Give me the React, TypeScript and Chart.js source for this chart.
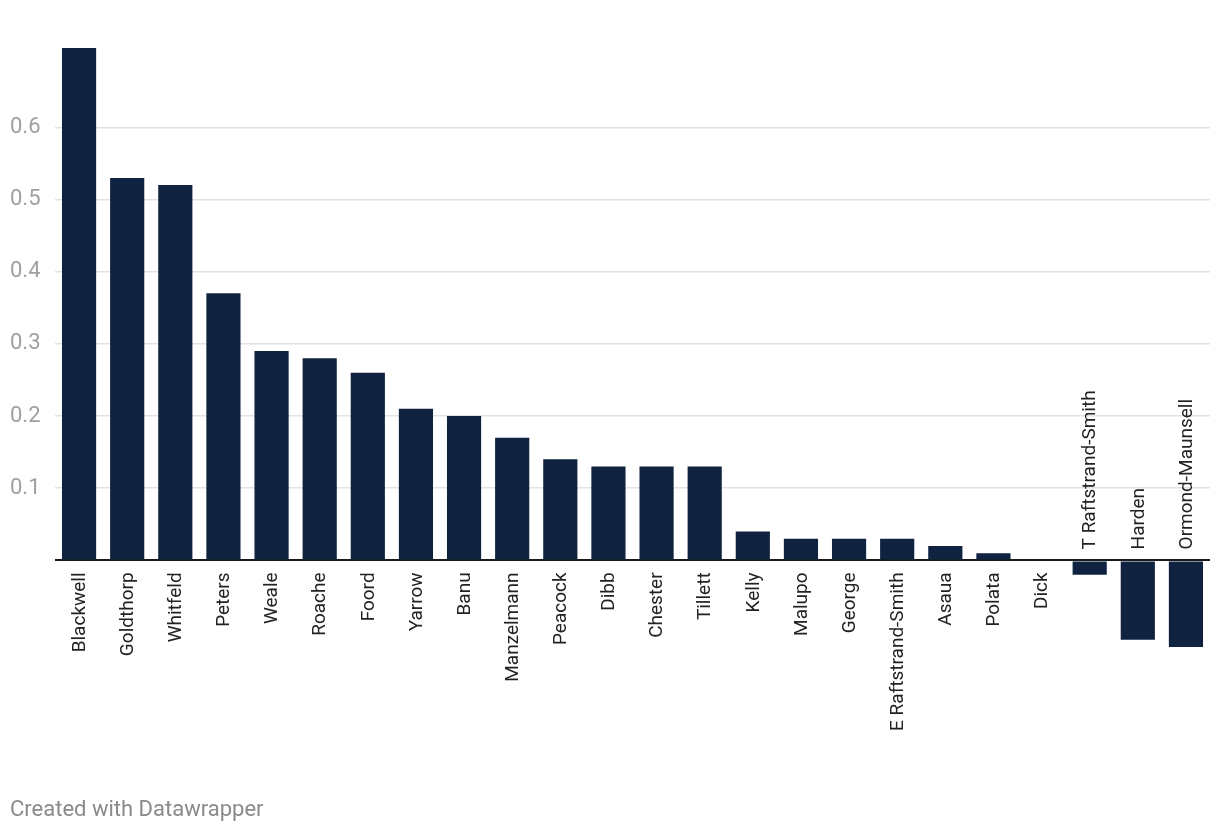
import React, { useEffect, useRef } from "react";
import { Chart, registerables } from "chart.js";

Chart.register(...registerables);

const CATEGORIES = [
  "Blackwell", "Goldthorp", "Whitfeld", "Peters", "Weale", "Roache", "Foord", "Yarrow",
  "Banu", "Manzelmann", "Peacock", "Dibb", "Chester", "Tillett", "Kelly", "Malupo",
  "George", "E Raftstrand-Smith", "Asaua", "Polata", "Dick", "T Raftstrand-Smith", "Harden", "Ormond-Maunsell",
];
const VALUES = [
  0.71, 0.53, 0.52, 0.37, 0.29, 0.28, 0.26, 0.21,
  0.2, 0.17, 0.14, 0.13, 0.13, 0.13, 0.04, 0.03,
  0.03, 0.03, 0.02, 0.01, 0, -0.02, -0.11, -0.12,
];
const Y_TICKS = [0, 0.1, 0.2, 0.3, 0.4, 0.5, 0.6];
const Y_MIN = -0.12;
const Y_MAX = 0.71;
const FOOTER = "Created with Datawrapper";

const BAR_COLOR = "#0f2340";

const barLabels = {
  id: "barLabels",
  afterDatasetsDraw(chart: any) {
    const { ctx, scales } = chart;
    const xs = scales.x;
    const ys = scales.y;
    const y0 = ys.getPixelForValue(0);
    ctx.save();
    ctx.font = "19px Roboto";
    ctx.fillStyle = "#222";
    ctx.textBaseline = "middle";
    CATEGORIES.forEach((label, i) => {
      const x = xs.getPixelForValue(i);
      const v = VALUES[i];
      ctx.save();
      if (v >= 0) {
        ctx.translate(x, y0 + 12);
        ctx.rotate(-Math.PI / 2);
        ctx.textAlign = "right";
      } else {
        ctx.translate(x, y0 - 11);
        ctx.rotate(-Math.PI / 2);
        ctx.textAlign = "left";
      }
      ctx.fillText(label, 0, 1);
      ctx.restore();
    });
    ctx.restore();
  },
};

export default function App() {
  const ref = useRef<HTMLCanvasElement>(null);
  useEffect(() => {
    if (!ref.current) return;
    const chart = new Chart(ref.current, {
      type: "bar",
      data: {
        labels: CATEGORIES,
        datasets: [
          {
            data: VALUES,
            backgroundColor: BAR_COLOR,
            categoryPercentage: 1,
            barPercentage: 0.71,
          },
        ],
      },
      options: {
        animation: false,
        responsive: false,
        maintainAspectRatio: false,
        layout: { padding: { left: 10, right: 10, top: 48, bottom: 187 } },
        plugins: { legend: { display: false }, tooltip: { enabled: false } },
        scales: {
          x: { display: false },
          y: {
            min: Y_MIN,
            max: Y_MAX,
            border: { display: false },
            afterBuildTicks: (scale: any) => {
              scale.ticks = Y_TICKS.map((v) => ({ value: v }));
            },
            afterFit: (scale: any) => {
              scale.width = 45;
            },
            grid: {
              drawTicks: false,
              color: (c: any) => (c.tick && c.tick.value === 0 ? "#1a1a1a" : "#e2e2e2"),
              lineWidth: (c: any) => (c.tick && c.tick.value === 0 ? 2 : 1.5),
            },
            ticks: {
              crossAlign: "far",
              padding: 0,
              color: "#a0a0a0",
              font: { family: "Roboto", size: 22 },
              callback: (v: any) => (v === 0 ? "" : String(v)),
            },
          },
        },
      },
      plugins: [barLabels],
    });
    return () => chart.destroy();
  }, []);
  return (
    <div style={{ position: "absolute", left: 0, top: 0, width: 1220, height: 834, background: "#fff" }}>
      <canvas ref={ref} width={1220} height={834} style={{ position: "absolute", left: 0, top: 0 }} />
      <div
        style={{
          position: "absolute",
          left: 10,
          top: 796,
          fontFamily: "Roboto",
          fontSize: 22,
          color: "#8a8a8a",
          lineHeight: "26px",
        }}
      >
        {FOOTER}
      </div>
    </div>
  );
}
